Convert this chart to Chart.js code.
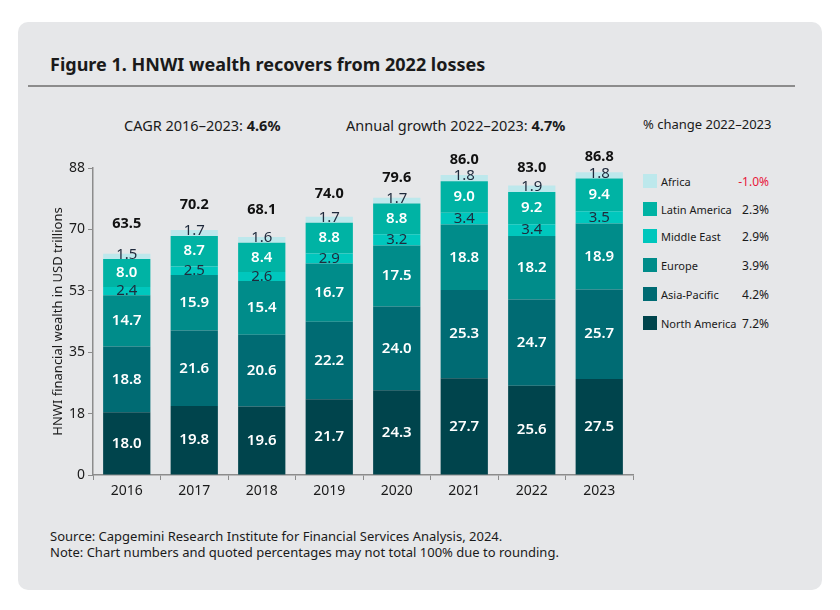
<!DOCTYPE html>
<html>
  <head>
    <script src="https://cdn.jsdelivr.net/npm/chart.js@4.4.1/dist/chart.umd.min.js"></script>
    <style>
      body { margin: 0; background: #fff; font-family: 'Noto Sans', sans-serif; color: #1a1a1a; }
      #card { position: absolute; left: 18px; top: 22px; width: 804px; height: 568px; background: #e6e7e9; border-radius: 10px; }
      #wrap { position: absolute; left: 0; top: 0; width: 840px; height: 610px; }
      .t { position: absolute; white-space: nowrap; }
      #title { left: 50px; top: 52px; font-size: 18px; font-weight: bold; }
      #rule { position: absolute; left: 28px; top: 85px; width: 767px; height: 2px; background: #8c8c8c; }
      .head { top: 115px; font-size: 14.5px; }
      .leg { position: absolute; left: 643px; font-size: 11px; }
      .leg span.sw { position: absolute; left: 0; top: 0; width: 14px; height: 14px; }
      .leg span.nm { position: absolute; left: 18px; top: 0; white-space: nowrap; }
      .leg span.pc { position: absolute; left: 90px; width: 36px; top: -1px; text-align: right; font-size: 12px; }
      .src { left: 50px; font-size: 13px; }
    </style>
  </head>
  <body>
    <div id="card"></div>
    <div class="t" id="title">Figure 1. HNWI wealth recovers from 2022 losses</div>
    <div id="rule"></div>
    <div class="t head" style="left:124px">CAGR 2016–2023: <b>4.6%</b></div>
    <div class="t head" style="left:346px">Annual growth 2022–2023: <b>4.7%</b></div>
    <div class="t head" style="left:643px; font-size:13px">% change 2022–2023</div>
    <div id="legend"></div>
    <div class="t src" style="top:527px">Source: Capgemini Research Institute for Financial Services Analysis, 2024.</div>
    <div class="t src" style="top:543px">Note: Chart numbers and quoted percentages may not total 100% due to rounding.</div>
    <div id="wrap"><canvas id="canvas" width="840" height="610"></canvas></div>
    <script>
      const years = ['2016', '2017', '2018', '2019', '2020', '2021', '2022', '2023'];
      const northAmerica = [18.0, 19.8, 19.6, 21.7, 24.3, 27.7, 25.6, 27.5];
      const asiaPacific = [18.8, 21.6, 20.6, 22.2, 24.0, 25.3, 24.7, 25.7];
      const europe = [14.7, 15.9, 15.4, 16.7, 17.5, 18.8, 18.2, 18.9];
      const middleEast = [2.4, 2.5, 2.6, 2.9, 3.2, 3.4, 3.4, 3.5];
      const latinAmerica = [8.0, 8.7, 8.4, 8.8, 8.8, 9.0, 9.2, 9.4];
      const africa = [1.5, 1.7, 1.6, 1.7, 1.7, 1.8, 1.9, 1.8];
      const totals = [63.5, 70.2, 68.1, 74.0, 79.6, 86.0, 83.0, 86.8];
      const yTickValues = [0, 17.6, 35.2, 52.8, 70.4, 88];
      const yTickLabels = ['0', '18', '35', '53', '70', '88'];
      const legendNames = ['Africa', 'Latin America', 'Middle East', 'Europe', 'Asia-Pacific', 'North America'];
      const legendChange = ['-1.0%', '2.3%', '2.9%', '3.9%', '4.2%', '7.2%'];

      const colors = {
        na: '#00444c', ap: '#006b73', eu: '#008c8a', me: '#00c7bd', la: '#00b3a4', af: '#bde8ec'
      };
      const legendColors = [colors.af, colors.la, colors.me, colors.eu, colors.ap, colors.na];
      const legendTops = [174, 202, 229, 258, 287, 316];

      // legend (right side)
      const lg = document.getElementById('legend');
      legendNames.forEach((n, i) => {
        const d = document.createElement('div');
        d.className = 'leg';
        d.style.top = legendTops[i] + 'px';
        const red = i === 0 ? ' style="color:#e8173b"' : '';
        d.innerHTML = '<span class="sw" style="background:' + legendColors[i] + '"></span>' +
          '<span class="nm">' + n + '</span><span class="pc"' + red + '>' + legendChange[i] + '</span>';
        lg.appendChild(d);
      });

      const DARK = '#1f2a3c';
      const segLabels = {
        id: 'segLabels',
        afterDatasetsDraw(chart) {
          const ctx = chart.ctx;
          ctx.save();
          ctx.textAlign = 'center';
          ctx.textBaseline = 'middle';
          chart.data.datasets.forEach((ds, di) => {
            const meta = chart.getDatasetMeta(di);
            meta.data.forEach((bar, i) => {
              const mid = (bar.y + bar.base) / 2;
              ctx.fillStyle = ds.labelColor;
              ctx.font = (ds.labelColor === '#fff' ? '600 ' : '') + '15px "Noto Sans"';
              const off = ds.label === 'Africa' ? -2 : 0;
              ctx.fillText(ds.data[i].toFixed(1), bar.x, mid + off);
            });
          });
          // totals
          const top = chart.getDatasetMeta(chart.data.datasets.length - 1);
          ctx.fillStyle = '#111';
          ctx.font = 'bold 14.5px "Noto Sans"';
          top.data.forEach((bar, i) => {
            const off = Math.max(15, 27 - (totals[i] - 68) * 0.65);
            ctx.fillText(totals[i].toFixed(1), bar.x, bar.y - off);
          });
          ctx.restore();
        }
      };

      const mk = (label, data, color, labelColor) => ({
        label, data, backgroundColor: color, labelColor,
        barPercentage: 0.7, categoryPercentage: 1.0, borderWidth: 0
      });

      Chart.defaults.font.family = '"Noto Sans", sans-serif';
      Chart.defaults.color = '#1a1a1a';

      new Chart(document.getElementById('canvas').getContext('2d'), {
        type: 'bar',
        data: {
          labels: years,
          datasets: [
            mk('North America', northAmerica, colors.na, '#fff'),
            mk('Asia-Pacific', asiaPacific, colors.ap, '#fff'),
            mk('Europe', europe, colors.eu, '#fff'),
            mk('Middle East', middleEast, colors.me, DARK),
            mk('Latin America', latinAmerica, colors.la, '#fff'),
            mk('Africa', africa, colors.af, DARK),
          ],
        },
        plugins: [segLabels],
        options: {
          responsive: false,
          animation: false,
          layout: { padding: { top: 168, left: 46, right: 207, bottom: 105 } },
          plugins: { legend: { display: false }, tooltip: { enabled: false } },
          scales: {
            x: {
              stacked: true,
              afterFit: (s) => { s.height = 30; },
              grid: { drawOnChartArea: false, offset: true, tickLength: 5, color: '#8c8c8c' },
              border: { color: '#8c8c8c', width: 1.5 },
              ticks: { font: { size: 14 }, padding: 3, color: '#1a1a1a' },
            },
            y: {
              stacked: true,
              min: 0,
              max: 88,
              afterFit: (s) => { s.width = 47; },
              afterBuildTicks: (s) => { s.ticks = yTickValues.map((v) => ({ value: v })); },
              grid: { drawOnChartArea: false, tickLength: 5, color: '#8c8c8c' },
              border: { color: '#8c8c8c', width: 1.5 },
              ticks: {
                font: { size: 14 }, padding: 3, color: '#1a1a1a',
                callback: (v, i) => yTickLabels[i],
              },
              title: { display: true, text: 'HNWI financial wealth in USD trillions', font: { size: 13 }, padding: 4, color: '#1a1a1a' },
            },
          },
        },
      });
    </script>
  </body>
</html>
